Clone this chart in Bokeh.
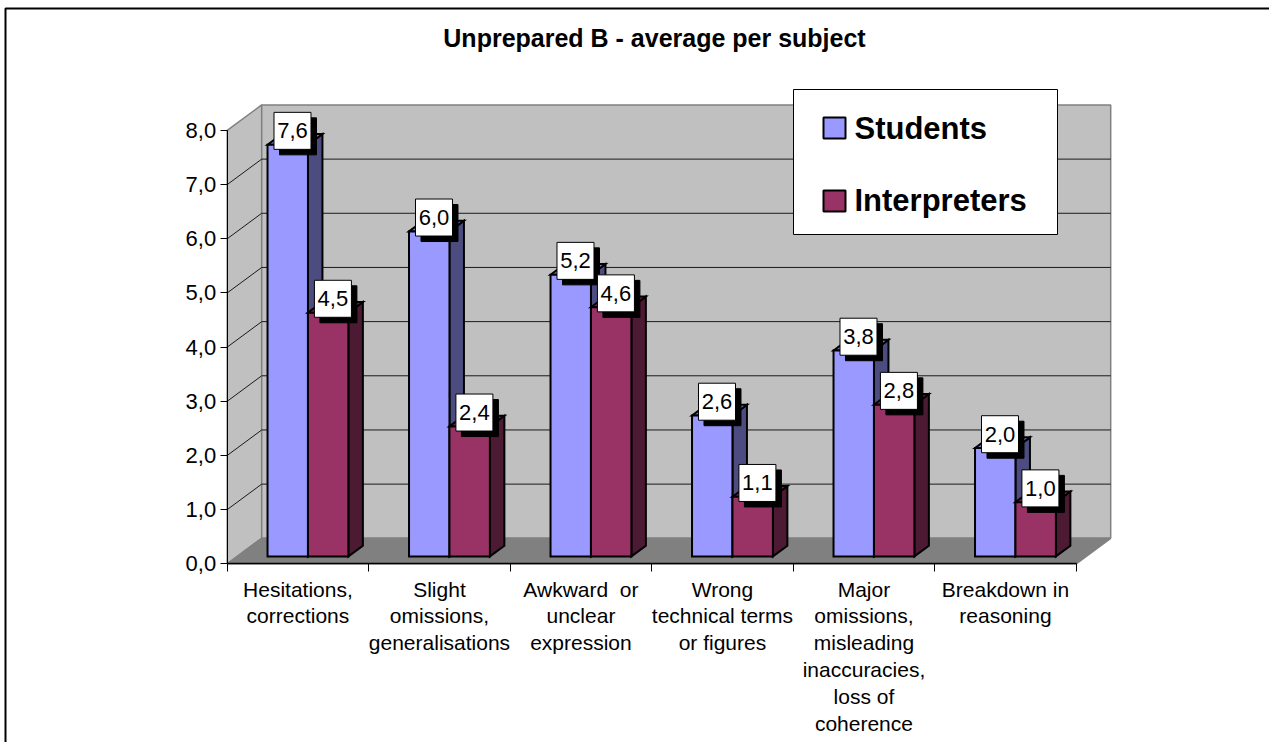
from bokeh.plotting import figure
from bokeh.models import Range1d, FixedTicker, ColumnDataSource
from bokeh.core.properties import value
from bokeh.embed import file_html
from bokeh.resources import INLINE

# ---- data -------------------------------------------------------------
categories = [
    "Hesitations,\ncorrections",
    "Slight\nomissions,\ngeneralisations",
    "Awkward\u00a0 or\nunclear\nexpression",
    "Wrong\ntechnical terms\nor figures",
    "Major\nomissions,\nmisleading\ninaccuracies,\nloss of\ncoherence",
    "Breakdown in\nreasoning",
]
series_names = ["Students", "Interpreters"]
students = [7.6, 6.0, 5.2, 2.6, 3.8, 2.0]
interpreters = [4.5, 2.4, 4.6, 1.1, 2.8, 1.0]
y_ticks = [0, 1, 2, 3, 4, 5, 6, 7, 8]
title_text = "Unprepared B - average per subject"

# ---- styling ----------------------------------------------------------
FONT = "Liberation Sans"
face_colors = {"front": ["#9999FF", "#993366"],
               "top": ["#7A7ACC", "#7A2952"],
               "side": ["#4C4C80", "#4D1A33"]}
WALL = "#C0C0C0"
FLOOR = "#808080"
EDGE = "#808080"

# ---- canvas / projection ----------------------------------------------
W, H = 1269, 742
X0_PX, Y0_PX = 226.7, 563.3          # front-plane origin (category 0, value 0)
PX_PER_CAT, PX_PER_UNIT = 141.5, 54.17
DX = 34.5 / PX_PER_CAT               # depth vector of the 3D box, data units
DY = 25.5 / PX_PER_UNIT
YMAX = y_ticks[-1]
NCAT = len(categories)
BAR_W = 1 / 3.5                       # gap width 150 %
F0, F1 = 0.29, 0.71                   # depth span of the bars


def px_x(px):
    return (px - X0_PX) / PX_PER_CAT


def px_y(py):
    return (Y0_PX - py) / PX_PER_UNIT


p = figure(width=W, height=H, output_backend="svg", toolbar_location=None,
           x_range=Range1d(px_x(0), px_x(W)), y_range=Range1d(px_y(H), px_y(0)),
           min_border=0, tools="")
p.title.visible = False
p.outline_line_color = None
p.grid.visible = False
p.background_fill_color = "white"
p.border_fill_color = "white"

# ---- chart border ---------------------------------------------------
p.line([px_x(5), px_x(5), px_x(W + 20)], [px_y(H + 20), px_y(8), px_y(8)],
       line_color="black", line_width=2)

# ---- walls and floor ------------------------------------------------
p.patch([0, 0, DX, DX], [0, YMAX, YMAX + DY, DY],
        fill_color=WALL, line_color=EDGE, line_width=1.5)
p.patch([DX, DX, NCAT + DX, NCAT + DX], [DY, YMAX + DY, YMAX + DY, DY],
        fill_color=WALL, line_color=EDGE, line_width=1.5)
p.patch([0, DX, NCAT + DX, NCAT], [0, DY, DY, 0],
        fill_color=FLOOR, line_color=EDGE, line_width=1.5)

# gridlines on back wall and side wall
gx, gy = [], []
for v in y_ticks[1:-1]:
    gx.append([DX, NCAT + DX]); gy.append([v + DY, v + DY])
    gx.append([0, DX]); gy.append([v, v + DY])
p.multi_line(gx, gy, line_color="#1a1a1a", line_width=1)

# ---- 3D bars ------------------------------------------------------------
xs, ys, fills = [], [], []
lab_x, lab_y, lab_t = [], [], []
a, b = F0 * DX, F1 * DX
ay, by = F0 * DY, F1 * DY
for i in range(NCAT):
    for s, vals in enumerate([students, interpreters]):
        v = vals[i]
        xl = i + (1 - 2 * BAR_W) / 2 + s * BAR_W
        xr = xl + BAR_W
        # side face
        xs.append([xr + a, xr + b, xr + b, xr + a])
        ys.append([ay, by, v + by, v + ay])
        fills.append(face_colors["side"][s])
        # top face
        xs.append([xl + a, xl + b, xr + b, xr + a])
        ys.append([v + ay, v + by, v + by, v + ay])
        fills.append(face_colors["top"][s])
        # front face
        xs.append([xl + a, xl + a, xr + a, xr + a])
        ys.append([ay, v + ay, v + ay, ay])
        fills.append(face_colors["front"][s])
        # value label anchored above the centre of the top face
        lab_x.append((xl + xr) / 2 + DX / 2 - 2.5 / PX_PER_CAT)
        lab_y.append(v + DY / 2 + 8.5 / PX_PER_UNIT)
        lab_t.append(f"{v:.1f}".replace(".", ","))

bar_src = ColumnDataSource(dict(xs=xs, ys=ys, fill=fills))
p.patches("xs", "ys", source=bar_src, fill_color="fill", line_color="black",
          line_width=2, line_join="miter")

# ---- value labels ----------------------------------------------------
SH = 5.5
lab_src = ColumnDataSource(dict(x=lab_x, y=lab_y, t=lab_t,
                                sx=[x + SH / PX_PER_CAT for x in lab_x],
                                sy=[y - SH / PX_PER_UNIT for y in lab_y]))
p.rect("sx", "sy", width=37, height=37, width_units="screen", height_units="screen",
       source=lab_src, fill_color="black", line_color="black")
p.rect("x", "y", width=37, height=37, width_units="screen", height_units="screen",
       source=lab_src, fill_color="white", line_color="black", line_width=1)
p.text("x", "y", text="t", source=lab_src, text_align="center",
       text_baseline="middle", text_font=value(FONT), text_font_size="22px",
       text_color="black")

# ---- axes -----------------------------------------------------------------
p.yaxis.fixed_location = 0
p.yaxis.bounds = (0, YMAX)
p.yaxis.ticker = FixedTicker(ticks=y_ticks)
p.yaxis.major_label_overrides = {t: f"{t:.1f}".replace(".", ",") for t in y_ticks}
p.yaxis.major_label_text_font = FONT
p.yaxis.major_label_text_font_size = "22px"
p.yaxis.major_label_text_color = "black"
p.yaxis.major_tick_out = 7
p.yaxis.major_tick_in = 0
p.yaxis.minor_tick_line_color = None
p.yaxis.major_label_standoff = 4
p.yaxis.axis_line_color = "black"
p.yaxis.major_tick_line_color = "black"

p.xaxis.fixed_location = 0
p.xaxis.bounds = (0, NCAT)
p.xaxis.ticker = FixedTicker(ticks=list(range(NCAT + 1)))
p.xaxis.major_label_overrides = {i: "" for i in range(NCAT + 1)}
p.xaxis.major_tick_out = 8
p.xaxis.major_tick_in = 0
p.xaxis.minor_tick_line_color = None
p.xaxis.axis_line_color = "black"
p.xaxis.axis_line_width = 1.5
p.xaxis.major_tick_line_color = "black"

# category labels under each group
p.text(x=[i + 0.5 for i in range(NCAT)], y=[px_y(577)] * NCAT, text=categories,
       text_align="center", text_baseline="top", text_font=value(FONT),
       text_font_size="21px", text_line_height=1.17, text_color="black")

# ---- title ----------------------------------------------------------------
p.text(x=[px_x(654)], y=[px_y(37)], text=[title_text], text_align="center",
       text_baseline="alphabetic", text_font=value(FONT), text_font_size="25px",
       text_font_style="bold", text_color="black")

# ---- legend ---------------------------------------------------------------
p.quad(left=[px_x(793)], right=[px_x(1057)], top=[px_y(89)], bottom=[px_y(234)],
       fill_color="white", line_color="black", line_width=1)
sw_top = [117, 190]
base = [127.5, 199.5]
p.quad(left=[px_x(823)] * 2, right=[px_x(845)] * 2,
       top=[px_y(t) for t in sw_top], bottom=[px_y(t + 21) for t in sw_top],
       fill_color=face_colors["front"], line_color="black", line_width=2)
p.text(x=[px_x(854)] * 2, y=[px_y(b_) for b_ in base], text=series_names,
       text_align="left", text_baseline="alphabetic", text_font=value(FONT),
       text_font_size="31px", text_font_style="bold", text_color="black")

open("out.html", "w").write(file_html(p, INLINE))
